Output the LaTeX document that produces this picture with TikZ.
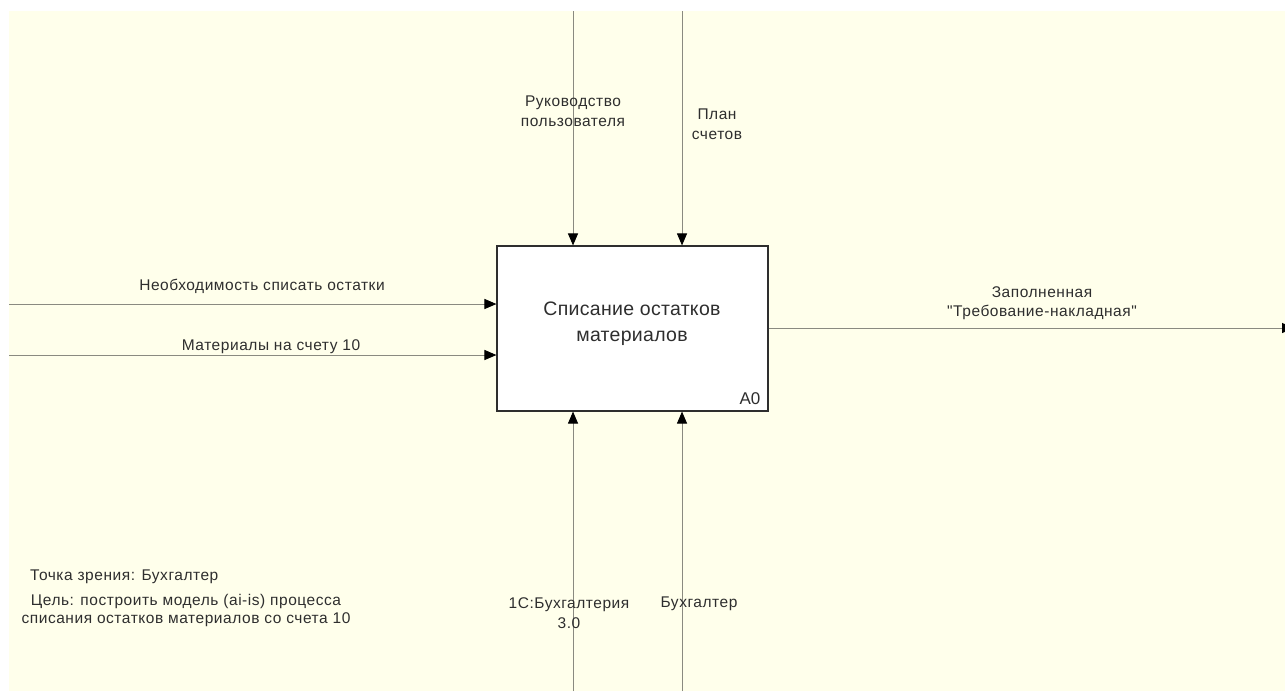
\documentclass[tikz,border=0pt]{standalone}
\usepackage{fontspec}
\setmainfont{Liberation Sans}
\newfontfamily\lblfont[LetterSpace=3.5]{Liberation Sans}
\newfontfamily\ttlfont[LetterSpace=1.5]{Liberation Sans}
\usetikzlibrary{arrows.meta}
\definecolor{sheet}{HTML}{FFFFEB}
\definecolor{flow}{HTML}{8A8A80}
\definecolor{ink}{HTML}{2E2E2E}
\tikzset{
  lbl/.style={text=ink, font=\lblfont\fontsize{15.5}{20}\selectfont, align=center, inner sep=0pt},
  note/.style={text=ink, font=\lblfont\fontsize{15.5}{18}\selectfont, inner sep=0pt},
  flowline/.style={draw=flow, line width=1pt, -{Triangle[length=12pt,width=10pt,fill=black,color=black]}},
  actbox/.style={draw=ink, line width=1.1pt, fill=white, minimum width=271pt, minimum height=165pt,
    inner sep=0pt}
}
\begin{document}
\begin{tikzpicture}[x=1pt,y=-1pt]
  \useasboundingbox (0,0) rectangle (1285,691);
  \clip (0,0) rectangle (1285,691);
  \fill[white] (0,0) rectangle (1285,691);
  \fill[sheet] (9,11) rectangle (1285,691);

  % activity box
  \node[actbox] (A0) at (632.5,328.5) {};
  \node[text=ink, font=\ttlfont\fontsize{19.5}{26}\selectfont, align=center, inner sep=0pt] (title) at (632,324)
    {Списание остатков\\материалов};
  \node[text=ink, font=\fontsize{17}{20}\selectfont, inner sep=0pt] (num) at (750,399) {A0};

  % free ends of the arrows
  \coordinate (ctl1) at (573,11);
  \coordinate (ctl2) at (682,11);
  \coordinate (mec1) at (573,691);
  \coordinate (mec2) at (682,691);
  \coordinate (in1) at (9,304);
  \coordinate (in2) at (9,355);
  \coordinate (out1) at (1294,328);

  % controls
  \draw[flowline] (ctl1) -- (ctl1 |- A0.north);
  \draw[flowline] (ctl2) -- (ctl2 |- A0.north);
  % mechanisms
  \draw[flowline] (mec1) -- (mec1 |- A0.south);
  \draw[flowline] (mec2) -- (mec2 |- A0.south);
  % inputs
  \draw[flowline] (in1) -- (in1 -| A0.west);
  \draw[flowline] (in2) -- (in2 -| A0.west);
  % output
  \draw[flowline] (A0.east |- out1) -- (out1);

  % arrow labels
  \node[lbl] (l1) at (573,111.5) {Руководство\\пользователя};
  \node[lbl] (l2) at (717,124) {План\\счетов};
  \node[lbl] (l3) at (569,613.5) {1С:Бухгалтерия\\3.0};
  \node[lbl] (l4) at (699,604) {Бухгалтер};
  \node[lbl] (l5) at (262,286) {Необходимость списать остатки};
  \node[lbl] (l6) at (271,347) {Материалы на счету 10};
  \node[lbl, font=\lblfont\fontsize{15.5}{19}\selectfont] (l7) at (1042,303.5)
    {Заполненная\\\symbol{34}Требование-накладная\symbol{34}};

  % viewpoint and purpose
  \node[note, anchor=west] (view) at (30,577) {Точка зрения: Бухгалтер};
  \node[note, align=center] (goal) at (186,610)
    {Цель: построить модель (ai-is) процесса\\списания остатков материалов со счета 10};
\end{tikzpicture}
\end{document}
